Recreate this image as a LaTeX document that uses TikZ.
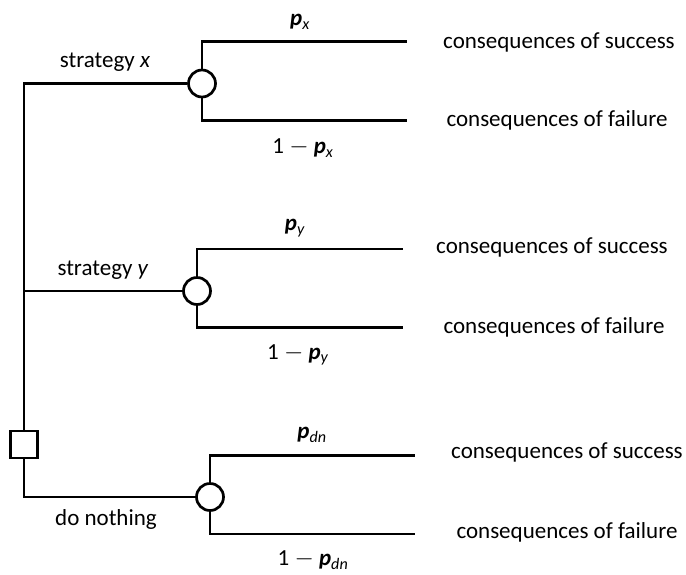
\documentclass[tikz,border=0pt]{standalone}
\usepackage{fontspec}
\setmainfont{Carlito}
\begin{document}
\begin{tikzpicture}[x=1pt,y=-1pt,
  line/.style={line width=2.7pt},
  chance/.style={circle,draw,line width=2.7pt,fill=white,minimum size=27pt,inner sep=0pt},
  decision/.style={rectangle,draw,line width=2.7pt,fill=white,minimum size=27pt,inner sep=0pt},
  lbl/.style={font=\fontsize{23}{26}\selectfont,inner sep=0pt},
  plbl/.style={font=\fontsize{23}{26}\selectfont,inner sep=0pt}]
\useasboundingbox (0,0) rectangle (686,574);
% nodes
\node[decision] (sq) at (24,444.5) {};
\node[chance] (c1) at (202,83.5) {};
\node[chance] (c2) at (197,291) {};
\node[chance] (c3) at (210,497) {};
% end coordinates
\coordinate (e1s) at (407,41.7);
\coordinate (e1f) at (407,120.7);
\coordinate (e2s) at (403,249);
\coordinate (e2f) at (403,327.5);
\coordinate (e3s) at (415,455.7);
\coordinate (e3f) at (415,534);
% connectors
\draw[line] (sq.north) |- (c1.west);
\draw[line] (sq.north) |- (c2.west);
\draw[line] (sq.south) |- (c3.west);
\draw[line] (c1.north) |- (e1s);
\draw[line] (c1.south) |- (e1f);
\draw[line] (c2.north) |- (e2s);
\draw[line] (c2.south) |- (e2f);
\draw[line] (c3.north) |- (e3s);
\draw[line] (c3.south) |- (e3f);
% branch labels
\node[lbl] (sx) at (105,62) {strategy \textit{x}};
\node[lbl] (sy) at (103,270) {strategy \textit{y}};
\node[lbl] (dn) at (106,519) {do nothing};
% probability labels
\node[plbl] (px) at (300,22) {\textbf{\textit{p}}\textsubscript{\textit{x}}};
\node[plbl] (qx) at (303,148) {1 $-$ \textbf{\textit{p}}\textsubscript{\textit{x}}};
\node[plbl] (py) at (295,228) {\textbf{\textit{p}}\textsubscript{\textit{y}}};
\node[plbl] (qy) at (298,355) {1 $-$ \textbf{\textit{p}}\textsubscript{\textit{y}}};
\node[plbl] (pd) at (312,435) {\textbf{\textit{p}}\textsubscript{\textit{dn}}};
\node[plbl] (qd) at (313,560) {1 $-$ \textbf{\textit{p}}\textsubscript{\textit{dn}}};
% consequences
\node[lbl] (o1s) at (559,42) {consequences of success};
\node[lbl] (o1f) at (557,120) {consequences of failure};
\node[lbl] (o2s) at (552,247) {consequences of success};
\node[lbl] (o2f) at (554,327) {consequences of failure};
\node[lbl] (o3s) at (567,452) {consequences of success};
\node[lbl] (o3f) at (567,532) {consequences of failure};
\end{tikzpicture}
\end{document}
